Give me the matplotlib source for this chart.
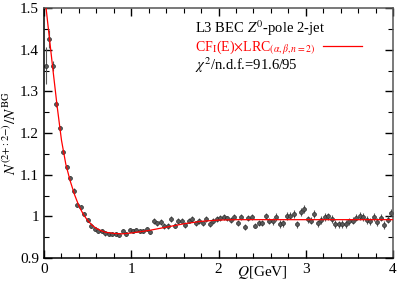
import numpy as np
import matplotlib
matplotlib.use('Agg')
import matplotlib.pyplot as plt
from matplotlib.ticker import MultipleLocator

plt.rcParams['font.family'] = ['Liberation Serif', 'DejaVu Serif']
plt.rcParams['mathtext.fontset'] = 'stix'

# bin centres (0.04 GeV bins)
q_bins = np.round(np.arange(0.02, 4.0, 0.04), 2)
ratio = [1.362, 1.425, 1.362, 1.270, 1.211, 1.154, 1.118, 1.091, 1.062, 1.028,
         1.022, 1.006, 0.991, 0.978, 0.969, 0.966, 0.964, 0.959, 0.958, 0.958,
         0.958, 0.955, 0.964, 0.958, 0.967, 0.964, 0.967, 0.965, 0.964, 0.970,
         0.963, 0.989, 0.983, 0.986, 0.977, 0.977, 0.993, 0.978, 0.988, 0.990,
         0.980, 0.990, 0.994, 0.983, 0.989, 0.983, 0.993, 0.981, 0.989, 0.993,
         0.997, 0.999, 0.995, 0.991, 0.998, 0.985, 0.999, 0.974, 0.997, 0.998,
         0.978, 0.985, 0.985, 1.001, 0.989, 0.988, 0.999, 0.982, 0.983, 1.001,
         1.002, 1.006, 0.981, 1.010, 1.018, 0.993, 0.990, 1.006, 0.983, 0.991,
         0.998, 1.000, 0.994, 0.982, 0.981, 0.982, 0.982, 0.988, 0.990, 0.997,
         1.001, 0.998, 0.991, 0.988, 0.999, 0.987, 0.997, 0.979, 0.992, 1.009]
ratio_err = ([0.045, 0.022, 0.012, 0.008] + [0.005] * 27 + [0.007] * 34
             + [0.009] * 35)

# fitted curve
fit_q = [0.0, 0.05, 0.1, 0.15, 0.2, 0.25, 0.3, 0.35, 0.4, 0.45, 0.5, 0.55,
         0.6, 0.65, 0.7, 0.8, 0.9, 1.0, 1.2, 1.4, 1.6, 1.8, 2.0, 2.2, 2.5, 4.0]
fit_val = [1.545, 1.45, 1.356, 1.265, 1.183, 1.125, 1.085, 1.052, 1.025,
           1.005, 0.990, 0.979, 0.971, 0.966, 0.962, 0.959, 0.958, 0.960,
           0.966, 0.974, 0.982, 0.988, 0.991, 0.992, 0.992, 0.992]

fig = plt.figure(figsize=(3.99, 2.82), dpi=100)
ax = fig.add_axes([0.1103, 0.0851, 0.8747, 0.8865])

ax.errorbar(q_bins, ratio, yerr=ratio_err, fmt='o', ms=2.8, mfc='#5a5a5a',
            mec='#2a2a2a', mew=0.5, ecolor='#555555', elinewidth=0.8,
            capsize=0, zorder=2)
ax.plot(fit_q, fit_val, color='red', lw=0.9, zorder=3)

ax.set_xlim(0, 4)
ax.set_ylim(0.9, 1.5)
ax.xaxis.set_major_locator(MultipleLocator(1))
ax.xaxis.set_minor_locator(MultipleLocator(0.2))
ax.yaxis.set_major_locator(MultipleLocator(0.1))
ax.yaxis.set_minor_locator(MultipleLocator(0.05))
ax.yaxis.set_major_formatter(plt.FuncFormatter(lambda v, p: '%g' % round(v, 2)))
ax.tick_params(which='both', direction='in', top=True, right=True,
               labelsize=11)
ax.tick_params(which='major', length=6, width=1)
ax.tick_params(which='minor', length=3.3, width=0.8)
for side in ['left', 'bottom']:
    ax.spines[side].set_linewidth(1.1)
for side in ['top', 'right']:
    ax.spines[side].set_color('#555555')
    ax.spines[side].set_linewidth(1.1)

ax.set_ylabel(r'$N^{(2{+}{:}2{-})}/N^{\mathrm{BG}}$', fontsize=11, labelpad=1)
ax.text(2.5, -0.022, r'$Q$[GeV]', transform=ax.get_xaxis_transform(),
        ha='center', va='top', fontsize=11)

ax.text(0.433, 0.92, r'L3 BEC $Z^{0}$-pole 2-jet', transform=ax.transAxes,
        fontsize=10.5, va='center')
ax.text(0.433, 0.842,
        r'CF$_{\mathrm{I}}$(E)$\times$LRC$_{(\alpha,\beta,n=2)}$',
        transform=ax.transAxes, fontsize=10, va='center', color='red')
ax.plot([0.80, 0.911], [0.848, 0.848], color='red', lw=0.9,
        transform=ax.transAxes)
ax.text(0.433, 0.772, r'$\chi^{2}$/n.d.f.=91.6/95', transform=ax.transAxes,
        fontsize=10.5, va='center')

plt.savefig('out.png', dpi=100)
